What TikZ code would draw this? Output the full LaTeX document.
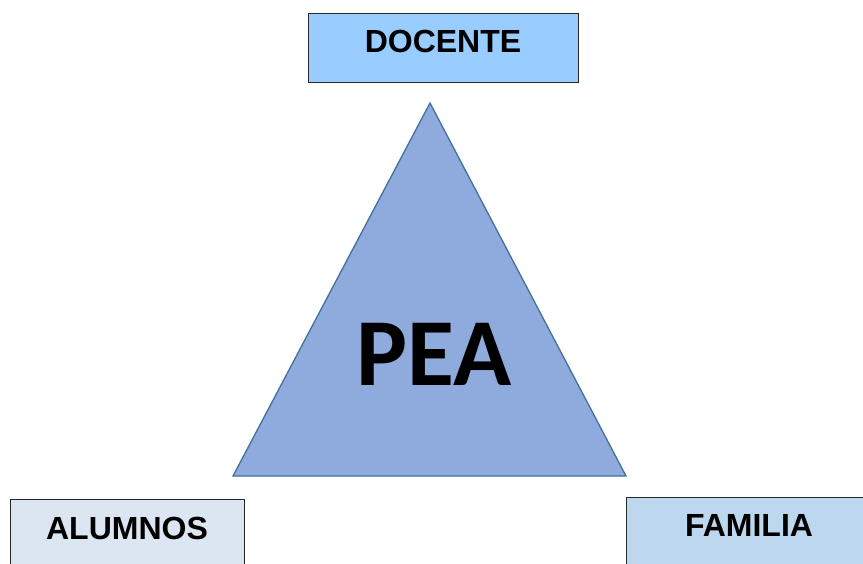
\documentclass[tikz,border=0pt]{standalone}
\usepackage{fontspec}
\setmainfont{Liberation Sans}
\newfontfamily\calib{Carlito}
\definecolor{docfill}{HTML}{99CCFF}
\definecolor{alufill}{HTML}{DCE6F2}
\definecolor{famfill}{HTML}{BDD7EE}
\definecolor{trifill}{HTML}{8FAADC}
\definecolor{tridraw}{HTML}{41719C}
\definecolor{boxdraw}{HTML}{262626}
\begin{document}
\begin{tikzpicture}[x=1pt,y=-1pt,
  boxstyle/.style={draw=boxdraw, line width=1pt},
  lbl/.style={font=\fontsize{32}{32}\selectfont\bfseries, inner sep=0pt, anchor=center}]
\useasboundingbox (0,0) rectangle (863,563);
\path[boxstyle, fill=docfill] (308,13) rectangle (578,82);
\path[boxstyle, fill=alufill] (10,499) rectangle (244,570);
\path[boxstyle, fill=famfill] (626,497) rectangle (870,570);
\node[lbl] (docente) at (443,41) {DOCENTE};
\node[lbl] (alumnos) at (127,528) {ALUMNOS};
\node[lbl] (familia) at (749,525) {FAMILIA};
\coordinate (apex) at (430,103);
\coordinate (bl) at (233,476);
\coordinate (br) at (626,476);
\draw[draw=tridraw, fill=trifill, line width=1.3pt, line join=miter] (apex) -- (bl) -- (br) -- cycle;
\node[font=\calib\fontsize{96}{96}\selectfont\bfseries, inner sep=0pt] (pea) at (434,354) {PEA};
\end{tikzpicture}
\end{document}
